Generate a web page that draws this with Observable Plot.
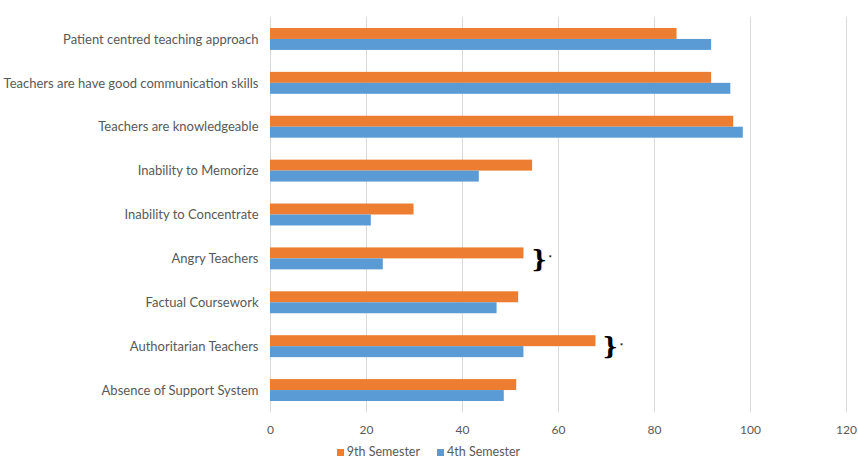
<!DOCTYPE html>
<html>
<head>
<meta charset="utf-8">
<script src="https://cdn.jsdelivr.net/npm/d3@7"></script>
<script src="https://cdn.jsdelivr.net/npm/@observablehq/plot@0.6"></script>
<style>
  html, body { margin: 0; padding: 0; background: #fff; }
  #chart { width: 858px; }
  .legend { display: flex; justify-content: center; gap: 17px; font-family: Lato, "Open Sans", sans-serif; font-size: 12.5px; color: #595959; height: 16px; line-height: 16px; margin-top: 0px; margin-left: -1px; }
  .legend span.sw { display: inline-block; width: 7px; height: 7px; margin-right: 3px; vertical-align: 0px; }
</style>
</head>
<body>
<div id="chart"></div>
<script>
const categories = [
  "Patient centred teaching approach",
  "Teachers are have good communication skills",
  "Teachers are knowledgeable",
  "Inability to Memorize",
  "Inability to Concentrate",
  "Angry Teachers",
  "Factual Coursework",
  "Authoritarian Teachers",
  "Absence of Support System"
];
const series = ["9th Semester", "4th Semester"];
const sem9 = [84.7, 91.9, 96.5, 54.6, 29.9, 52.8, 51.7, 67.8, 51.3];
const sem4 = [91.9, 95.9, 98.5, 43.5, 21.0, 23.5, 47.2, 52.8, 48.7];
const xTicks = [0, 20, 40, 60, 80, 100, 120];
const colors = ["#ED7D31", "#5B9BD5"];
// significance annotations (category, x position in data units)
const sigCats = ["Angry Teachers", "Authoritarian Teachers"];
const sigX = [56.0, 70.8];

const d9 = categories.map((c, i) => ({cat: c, value: sem9[i]}));
const d4 = categories.map((c, i) => ({cat: c, value: sem4[i]}));
const sig = sigCats.map((c, i) => ({cat: c, x: sigX[i]}));

const W = 858, H = 444;
const yTop = 17, yBottom = 412;
const bw = (yBottom - yTop) / 9 * 0.5;

const chart = Plot.plot({
  width: W,
  height: H,
  marginLeft: 270,
  marginRight: 12,
  marginTop: yTop,
  marginBottom: H - yBottom,
  style: {fontFamily: "Lato, 'Open Sans', sans-serif", color: "#595959", background: "#fff"},
  x: {domain: [0, 120], ticks: xTicks, label: null},
  y: {domain: categories, paddingInner: 0.5, paddingOuter: 0.25, round: false, label: null},
  marks: [
    Plot.ruleX(xTicks, {stroke: "#D9D9D9", strokeWidth: 1}),
    Plot.barX(d9, {x: "value", y: "cat", fill: colors[0], insetBottom: bw / 2}),
    Plot.barX(d4, {x: "value", y: "cat", fill: colors[1], insetTop: bw / 2}),
    Plot.text(sig, {x: "x", y: "cat", text: () => "}", fontSize: 24, fontWeight: "bold", fill: "#000", fontFamily: "'DejaVu Serif', serif", dy: 1}),
    Plot.text(sig, {x: "x", y: "cat", text: () => "*", fontSize: 8, fontWeight: "bold", fill: "#000", dx: 11, dy: 0}),
    Plot.axisX({ticks: xTicks, tickSize: 0, tickPadding: 13, fontSize: 12, fill: "#595959", label: null}),
    Plot.axisY({tickSize: 0, tickPadding: 12, fontSize: 13, fill: "#595959", label: null})
  ]
});
document.getElementById("chart").appendChild(chart);

const legend = document.createElement("div");
legend.className = "legend";
legend.innerHTML = series.map((s, i) => `<div><span class="sw" style="background:${colors[i]}"></span>${s}</div>`).join("");
document.getElementById("chart").appendChild(legend);
</script>
</body>
</html>
